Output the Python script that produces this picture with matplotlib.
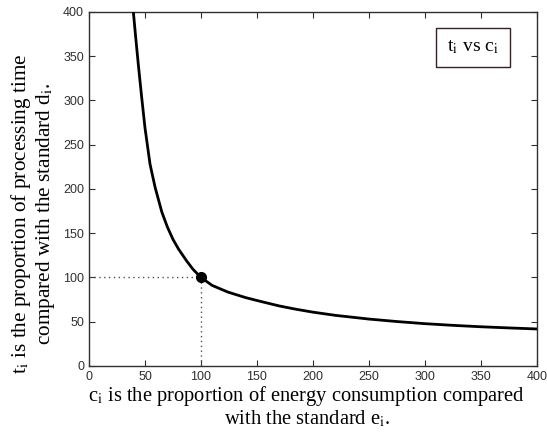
import matplotlib
matplotlib.use("Agg")
import matplotlib.pyplot as plt

# values
c_vals = [39.6, 41.5, 44, 47, 50, 54.5, 59, 65, 70, 75, 80, 87, 93, 100,
          110, 124, 140, 154, 170, 184, 200, 220, 250, 275, 300, 325, 350, 375, 400]
t_vals = [400, 374, 341, 304, 269, 228, 202, 174, 157, 143, 132, 119, 109, 100,
          91, 83.5, 77.2, 72.7, 67.8, 64.3, 60.8, 57.2, 53, 50.2, 47.8, 45.9, 44.3, 43, 41.8]
ref_c = 100
ref_t = 100
x_ticks = [0, 50, 100, 150, 200, 250, 300, 350, 400]
y_ticks = [0, 50, 100, 150, 200, 250, 300, 350, 400]

plt.rcParams['mathtext.fontset'] = 'stix'

fig = plt.figure(figsize=(5.47, 4.36), dpi=100)
ax = fig.add_axes([0.1627, 0.1606, 0.819, 0.812])

ax.plot(c_vals, t_vals, color='black', lw=2.0, zorder=3,
        solid_joinstyle='round', solid_capstyle='round')
ax.plot([0, ref_c], [ref_t, ref_t], color='#505050', ls=(0, (1, 2.5)), lw=1.0, zorder=2)
ax.plot([ref_c, ref_c], [0, ref_t], color='#505050', ls=(0, (1, 2.5)), lw=1.0, zorder=2)
ax.plot([ref_c], [ref_t], 'o', color='black', ms=7, zorder=4)

ax.set_xlim(0, 400)
ax.set_ylim(0, 400)
ax.set_xticks(x_ticks)
ax.set_yticks(y_ticks)
ax.tick_params(direction='in', top=True, right=True, length=4, width=0.8,
               labelsize=9, colors='#303030')
for lab in ax.get_xticklabels() + ax.get_yticklabels():
    lab.set_fontfamily('Liberation Sans')
for s in ax.spines.values():
    s.set_color('#303030')
    s.set_linewidth(1.0)

serif = 'Liberation Serif'
ax.set_xlabel('c$_\\mathrm{i}$ is the proportion of energy consumption compared\nwith the standard e$_\\mathrm{i}$.',
              fontsize=14.8, family=serif, linespacing=1.0)
ax.xaxis.set_label_coords(0.486, -0.052)
ax.set_ylabel('t$_\\mathrm{i}$ is the proportion of processing time\ncompared with the standard d$_\\mathrm{i}$.',
              fontsize=15.3, family=serif, linespacing=1.05)
ax.yaxis.set_label_coords(-0.072, 0.43)

ax.text(0.857, 0.90, 't$_\\mathrm{i}$ vs c$_\\mathrm{i}$', transform=ax.transAxes,
        ha='center', va='center', fontsize=14, family=serif,
        bbox=dict(boxstyle='square,pad=0.55', fc='white', ec='#3a2020', lw=1.0))

fig.savefig('out.png', dpi=100)
